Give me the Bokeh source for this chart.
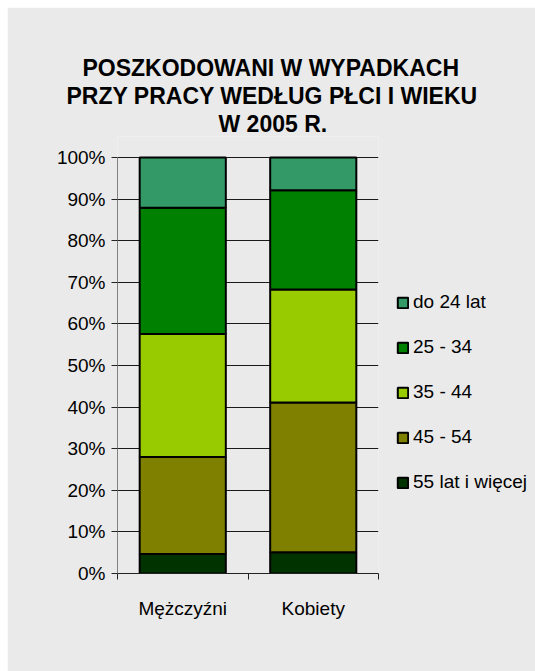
from bokeh.plotting import figure
from bokeh.models import (Range1d, FixedTicker, PrintfTickFormatter, Legend,
                          LegendItem, Title, ColumnDataSource)
from bokeh.embed import file_html
from bokeh.resources import INLINE

# ---- data ----
categories = ["Mężczyźni", "Kobiety"]
age_groups = ["55 lat i więcej", "45 - 54", "35 - 44", "25 - 34", "do 24 lat"]
colors = ["#003300", "#808000", "#99CC00", "#008000", "#339966"]
men = [4.7, 23.3, 29.6, 30.3, 12.1]
women = [5.1, 36.0, 27.2, 23.8, 7.9]
title_lines = ["POSZKODOWANI W WYPADKACH", "PRZY PRACY WEDŁUG PŁCI I WIEKU", "W 2005 R."]
y_ticks = list(range(0, 101, 10))

FONT = "Liberation Sans"
BG = "#eaeaea"

xpos = [i + 0.5 for i in range(len(categories))]
data = {"x": xpos}
for i, g in enumerate(age_groups):
    data[g] = [men[i], women[i]]
src = ColumnDataSource(data)

p = figure(frame_width=261, frame_height=437, output_backend="svg", toolbar_location=None,
           x_range=Range1d(0, len(categories)), y_range=Range1d(0, 105.05),
           min_border_left=110, min_border_right=157, min_border_top=129,
           min_border_bottom=98, margin=(7, 0, 0, 7))
p.background_fill_color = BG
p.border_fill_color = BG
p.outline_line_color = None

renderers = p.vbar_stack(age_groups, x="x", width=0.66, source=src,
                         fill_color=colors, line_color="black", line_width=2)

# axes
p.yaxis.ticker = FixedTicker(ticks=y_ticks, minor_ticks=[])
p.yaxis.formatter = PrintfTickFormatter(format="%d%%")
p.yaxis.bounds = (y_ticks[0], y_ticks[-1])
p.yaxis.major_tick_out = 6
p.yaxis.major_tick_in = 0
p.yaxis.minor_tick_out = 0
p.yaxis.axis_line_color = "#808080"
p.yaxis.major_tick_line_color = "#222222"
p.yaxis.major_label_standoff = 6

p.xaxis.ticker = FixedTicker(ticks=xpos, minor_ticks=list(range(len(categories) + 1)))
p.xaxis.major_label_overrides = {x: c for x, c in zip(xpos, categories)}
p.xaxis.major_tick_out = 0
p.xaxis.major_tick_in = 0
p.xaxis.minor_tick_out = 6
p.xaxis.minor_tick_in = 0
p.xaxis.minor_tick_line_color = "#222222"
p.xaxis.axis_line_color = "#222222"
p.xaxis.major_label_standoff = 18

for ax in (p.xaxis, p.yaxis):
    ax.major_label_text_font = FONT
    ax.major_label_text_font_size = "19px"
    ax.major_label_text_color = "black"

p.xgrid.visible = False
p.ygrid.grid_line_color = "#1a1a1a"
p.ygrid.grid_line_width = 1

# title: p.title is outermost; added titles stack from the frame outwards
offsets = [-35, -51, 101]
styles = dict(text_font=FONT, text_font_size="23px", text_font_style="bold",
              text_color="black", align="left", standoff=0)
p.title.text = title_lines[0]
p.title.offset = offsets[0]
for k, v in styles.items():
    setattr(p.title, k, v)
for line, off in [(title_lines[2], offsets[2]), (title_lines[1], offsets[1])]:
    p.add_layout(Title(text=line, offset=off, **styles), "above")

# legend
items = [LegendItem(label=g, renderers=[r]) for g, r in zip(age_groups, renderers)][::-1]
legend = Legend(items=items, location=(18, 80), padding=0, margin=0,
                glyph_width=13, glyph_height=13, label_height=22,
                label_standoff=4, spacing=23,
                label_text_font=FONT, label_text_font_size="19px",
                label_text_color="black",
                border_line_alpha=0, background_fill_alpha=0)
p.add_layout(legend, "right")

open("out.html", "w").write(file_html(p, INLINE))
